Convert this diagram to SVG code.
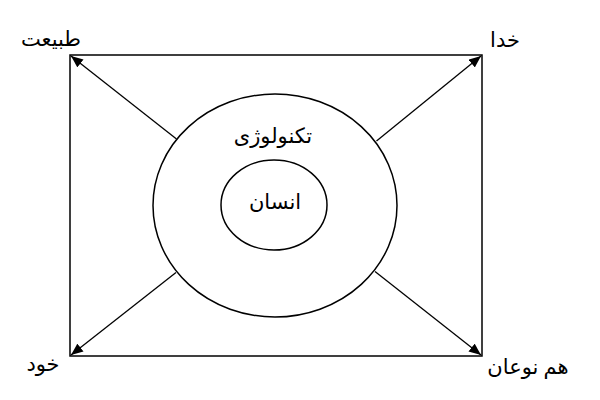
<svg xmlns="http://www.w3.org/2000/svg" width="600" height="400" viewBox="0 0 600 400">
<style>
.shape{fill:none;stroke:#000;stroke-width:1.5}
.conn{stroke:#000;stroke-width:1.3;fill:none;marker-end:url(#ah)}
text{font-family:"Liberation Serif","DejaVu Sans",serif;font-size:21px;fill:#000;text-anchor:middle;direction:rtl}
</style>
<defs>
<marker id="ah" viewBox="0 0 12 10" refX="12" refY="5" markerWidth="12" markerHeight="10" markerUnits="userSpaceOnUse" orient="auto">
<path d="M0,0 L12,5 L0,10 Z" fill="#000"/>
</marker>
</defs>
<rect width="600" height="400" fill="#fff"/>
<g id="frame"><rect class="shape" x="70" y="55" width="412" height="301"/></g>
<g id="technology"><ellipse class="shape" cx="275" cy="205.5" rx="122" ry="111.5"/><text x="273" y="143">تکنولوژی</text></g>
<g id="human"><ellipse class="shape" cx="274" cy="205" rx="53" ry="45"/><text x="275" y="209">انسان</text></g>
<g id="nature"><text x="51" y="46">طبیعت</text></g>
<g id="god"><text x="505" y="47">خدا</text></g>
<g id="self"><text x="43" y="371">خود</text></g>
<g id="others"><text x="528" y="374">هم نوعان</text></g>
<g id="connectors">
<line class="conn" x1="176.5" y1="139" x2="71" y2="56"/>
<line class="conn" x1="376.5" y1="141" x2="481" y2="56"/>
<line class="conn" x1="176" y1="272.5" x2="71" y2="355"/>
<line class="conn" x1="375" y1="271.5" x2="481" y2="355"/>
</g>
</svg>
